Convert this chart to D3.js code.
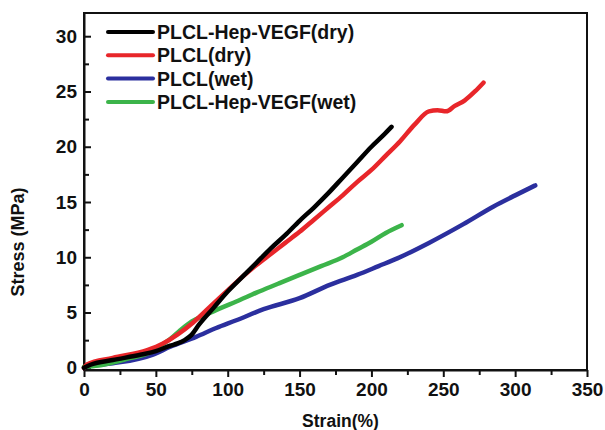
<!DOCTYPE html>
<html>
<head>
<meta charset="utf-8">
<script src="https://cdn.jsdelivr.net/npm/d3@7"></script>
<style>
  body { margin: 0; background: #fff; }
  svg { display: block; font-family: "Liberation Sans", Arial, sans-serif; }
  .axis text { font-size: 19px; font-weight: bold; fill: #111; }
  .axis path, .axis line { stroke: #111; stroke-width: 2px; }
</style>
</head>
<body>
<div id="chart-area"></div>
<script>
var margin = {left: 84, right: 18, top: 13, bottom: 60};
var width = 605 - margin.left - margin.right;
var height = 430 - margin.top - margin.bottom;

// data: [strain %, stress MPa]
var heparinDry = [[0,0],[5,0.3],[20,0.7],[40,1.2],[50,1.5],[60,2.0],[65,2.2],[70,2.5],[75,3.0],[80,3.9],[90,5.4],[100,6.9],[110,8.2],[120,9.5],[130,10.8],[140,12.0],[150,13.3],[160,14.5],[170,15.8],[180,17.2],[190,18.6],[200,20.0],[208,21.0],[214,21.8]];
var plclDry = [[0,0],[2,0.3],[20,0.9],[44,1.6],[55,2.2],[65,3.0],[76,4.1],[90,5.8],[100,7.0],[110,8.2],[120,9.3],[130,10.3],[140,11.3],[150,12.3],[160,13.4],[170,14.5],[180,15.6],[190,16.8],[200,17.9],[210,19.2],[220,20.5],[230,22.0],[240,23.2],[246,23.3],[252,23.2],[258,23.7],[265,24.2],[272,25.0],[278,25.8]];
var plclWet = [[0,0],[2,0.1],[20,0.4],[48,1.2],[60,1.9],[78,2.8],[92,3.6],[106,4.3],[125,5.3],[150,6.3],[171,7.5],[190,8.4],[205,9.2],[218,9.9],[240,11.3],[264,13.0],[285,14.6],[300,15.6],[314,16.5]];
var heparinWet = [[0,0.1],[10,0.2],[18,0.4],[30,0.8],[46,1.4],[53,2.0],[60,2.6],[67,3.4],[75,4.2],[85,4.8],[95,5.4],[106,6.0],[120,6.8],[135,7.6],[150,8.4],[165,9.2],[180,10.0],[190,10.7],[200,11.4],[210,12.2],[221,12.9]];

var seriesNames = ["PLCL-Hep-VEGF(dry)", "PLCL(dry)", "PLCL(wet)", "PLCL-Hep-VEGF(wet)"];
var seriesColours = ["#000000", "#e8262a", "#2b2f9e", "#3cb44a"];
var seriesData = [heparinDry, plclDry, plclWet, heparinWet];

var xTicks = [0, 50, 100, 150, 200, 250, 300, 350];
var yTicks = [0, 5, 10, 15, 20, 25, 30];

var svg = d3.select("#chart-area").append("svg")
    .attr("width", 605)
    .attr("height", 430);

var g = svg.append("g")
    .attr("transform", "translate(" + margin.left + "," + margin.top + ")");

var x = d3.scaleLinear().domain([0, 350]).range([0, width]);
var y = d3.scaleLinear().domain([-0.2, 32.1]).range([height, 0]);

// minor ticks
var xMinor = d3.range(25, 350, 50);
var yMinor = d3.range(2.5, 32, 5);

g.append("g")
    .attr("class", "axis")
    .attr("transform", "translate(0," + height + ")")
    .call(d3.axisBottom(x).tickValues(xMinor).tickSize(5).tickFormat(""))
    .select(".domain").remove();

g.append("g")
    .attr("class", "axis")
    .call(d3.axisLeft(y).tickValues(yMinor).tickSize(-5).tickFormat(""))
    .select(".domain").remove();

g.append("g")
    .attr("class", "axis x-axis")
    .attr("transform", "translate(0," + height + ")")
    .call(d3.axisBottom(x).tickValues(xTicks).tickSize(7).tickPadding(6).tickSizeOuter(0));

g.append("g")
    .attr("class", "axis y-axis")
    .call(d3.axisLeft(y).tickValues(yTicks).tickSize(-7).tickPadding(7).tickSizeOuter(0));

// frame
g.append("rect")
    .attr("width", width)
    .attr("height", height)
    .attr("fill", "none")
    .attr("stroke", "#111")
    .attr("stroke-width", 2);

var line = d3.line()
    .x(function(d) { return x(d[0]); })
    .y(function(d) { return y(d[1]); })
    .curve(d3.curveMonotoneX);

// draw back to front so black sits on top
[2, 3, 1, 0].forEach(function(i) {
    g.append("path")
        .datum(seriesData[i])
        .attr("fill", "none")
        .attr("stroke", seriesColours[i])
        .attr("stroke-width", 4.5)
        .attr("stroke-linejoin", "round")
        .attr("stroke-linecap", "round")
        .attr("d", line);
});

// legend
var legend = g.append("g")
    .attr("transform", "translate(24,19)");

seriesNames.forEach(function(name, i) {
    var row = legend.append("g")
        .attr("transform", "translate(0," + (i * 23.3) + ")");
    row.append("line")
        .attr("x1", 0).attr("x2", 45)
        .attr("stroke", seriesColours[i])
        .attr("stroke-width", 4)
        .attr("stroke-linecap", "round");
    row.append("text")
        .attr("x", 49)
        .attr("dy", "0.36em")
        .attr("font-size", "19.5px")
        .attr("font-weight", "bold")
        .attr("fill", "#111")
        .text(name);
});

g.append("text")
    .attr("x", width / 2 + 5)
    .attr("y", height + 57)
    .attr("font-size", "17.5px")
    .attr("font-weight", "bold")
    .attr("text-anchor", "middle")
    .attr("fill", "#111")
    .text("Strain(%)");

g.append("text")
    .attr("transform", "rotate(-90)")
    .attr("x", -229)
    .attr("y", -60)
    .attr("font-size", "18px")
    .attr("font-weight", "bold")
    .attr("text-anchor", "middle")
    .attr("fill", "#111")
    .text("Stress (MPa)");
</script>
</body>
</html>
